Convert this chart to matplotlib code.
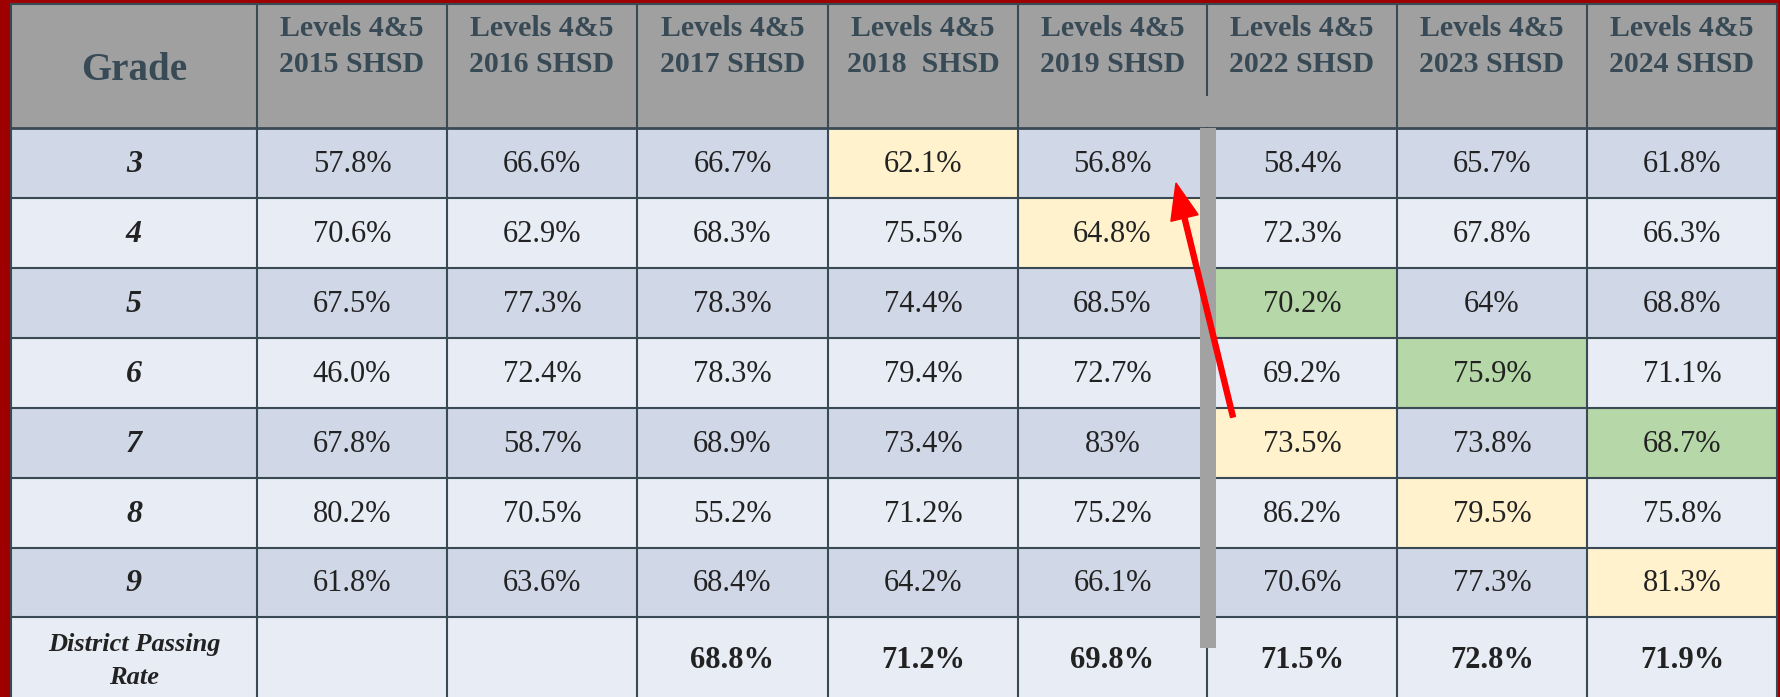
import matplotlib
matplotlib.use("Agg")
import matplotlib.pyplot as plt
from matplotlib.patches import Rectangle

# ---------------- data ----------------
years = ["2015", "2016", "2017", "2018 ", "2019", "2022", "2023", "2024"]
header_labels = [f"Levels 4&5\n{y} SHSD" for y in years]
grades = ["3", "4", "5", "6", "7", "8", "9"]

grade3 = ["57.8%", "66.6%", "66.7%", "62.1%", "56.8%", "58.4%", "65.7%", "61.8%"]
grade4 = ["70.6%", "62.9%", "68.3%", "75.5%", "64.8%", "72.3%", "67.8%", "66.3%"]
grade5 = ["67.5%", "77.3%", "78.3%", "74.4%", "68.5%", "70.2%", "64%", "68.8%"]
grade6 = ["46.0%", "72.4%", "78.3%", "79.4%", "72.7%", "69.2%", "75.9%", "71.1%"]
grade7 = ["67.8%", "58.7%", "68.9%", "73.4%", "83%", "73.5%", "73.8%", "68.7%"]
grade8 = ["80.2%", "70.5%", "55.2%", "71.2%", "75.2%", "86.2%", "79.5%", "75.8%"]
grade9 = ["61.8%", "63.6%", "68.4%", "64.2%", "66.1%", "70.6%", "77.3%", "81.3%"]
district_label = "District Passing\nRate"
district = ["", "", "68.8%", "71.2%", "69.8%", "71.5%", "72.8%", "71.9%"]

# highlighted cells: (row index, column index, kind)
highlights = [(0, 3, "y"), (1, 4, "y"), (2, 5, "g"), (3, 6, "g"),
              (4, 5, "y"), (4, 7, "g"), (5, 6, "y"), (6, 7, "y")]

rows = [grade3, grade4, grade5, grade6, grade7, grade8, grade9]

# ---------------- style / layout ----------------
W, H = 1781, 697
RED = "#9E0000"
HEAD_BG = "#A0A0A0"
HEAD_TXT = "#374A55"
LINE = "#3A4A54"
DARK_ROW = "#D0D7E6"
LIGHT_ROW = "#E8ECF4"
YELLOW = "#FFF2CC"
GREEN = "#B6D7A8"
TXT = "#222222"
FONT = ["Liberation Serif", "DejaVu Serif"]

col_edges = [11, 257, 447, 637, 828, 1018, 1207, 1397, 1587, 1777]
row_edges = [4, 128, 198, 268, 338, 408, 478, 548, 617, 697]

fig = plt.figure(figsize=(W / 100, H / 100), dpi=100)
fig.patch.set_facecolor(RED)
ax = fig.add_axes([0, 0, 1, 1])
ax.set_xlim(0, W)
ax.set_ylim(H, 0)
ax.axis("off")

# header background
ax.add_patch(Rectangle((col_edges[0], row_edges[0]), col_edges[-1] - col_edges[0],
                       row_edges[1] - row_edges[0], facecolor=HEAD_BG, edgecolor="none", zorder=1))

# body rows
n_body = len(rows) + 1
for r in range(n_body):
    y0, y1 = row_edges[r + 1], row_edges[r + 2]
    fc = DARK_ROW if r % 2 == 0 else LIGHT_ROW
    ax.add_patch(Rectangle((col_edges[0], y0), col_edges[-1] - col_edges[0], y1 - y0,
                           facecolor=fc, edgecolor="none", zorder=1))

for r, c, kind in highlights:
    x0, x1 = col_edges[c + 1], col_edges[c + 2]
    y0, y1 = row_edges[r + 1], row_edges[r + 2]
    ax.add_patch(Rectangle((x0, y0), x1 - x0, y1 - y0,
                           facecolor=YELLOW if kind == "y" else GREEN, edgecolor="none", zorder=2))

# grid lines
lw = 1.5
for y in row_edges[:-1]:
    ax.plot([col_edges[0], col_edges[-1]], [y, y], color=LINE, lw=lw if y != row_edges[1] else 2.0,
            zorder=3, solid_capstyle="butt")
for i, x in enumerate(col_edges):
    if x == 1207:
        ax.plot([x, x], [row_edges[0], 95], color=LINE, lw=lw, zorder=3)
        ax.plot([x, x], [row_edges[1], H], color=LINE, lw=lw, zorder=3)
    else:
        ax.plot([x, x], [row_edges[0], H], color=LINE, lw=lw, zorder=3)

# header text
ax.text((col_edges[0] + col_edges[1]) / 2, 70, "Grade", ha="center", va="center",
        fontsize=28, fontweight="bold", color=HEAD_TXT, family=FONT, zorder=5)
for c, lab in enumerate(header_labels):
    cx = (col_edges[c + 1] + col_edges[c + 2]) / 2
    l1, l2 = lab.split("\n")
    ax.text(cx, 36, l1, ha="center", va="baseline", fontsize=21.5, fontweight="bold",
            color=HEAD_TXT, family=FONT, zorder=5)
    ax.text(cx, 72, l2, ha="center", va="baseline", fontsize=21.5, fontweight="bold",
            color=HEAD_TXT, family=FONT, zorder=5)

# body text
gx = (col_edges[0] + col_edges[1]) / 2
for r, (g, vals) in enumerate(zip(grades, rows)):
    cy = (row_edges[r + 1] + row_edges[r + 2]) / 2
    ax.text(gx, cy + 1, g, ha="center", va="center", fontsize=23, fontweight="bold",
            style="italic", color=TXT, family=FONT, zorder=5)
    for c, v in enumerate(vals):
        cx = (col_edges[c + 1] + col_edges[c + 2]) / 2
        ax.text(cx, cy + 1, v, ha="center", va="center", fontsize=22, color=TXT,
                family=FONT, zorder=5)

# district row
l1, l2 = district_label.split("\n")
ax.text(gx, 645, l1, ha="center", va="center", fontsize=19, style="italic", fontweight="bold",
        color=TXT, family=FONT, zorder=5)
ax.text(gx, 677, l2, ha="center", va="center", fontsize=19, style="italic", fontweight="bold",
        color=TXT, family=FONT, zorder=5)
for c, v in enumerate(district):
    cx = (col_edges[c + 1] + col_edges[c + 2]) / 2
    ax.text(cx, 661, v, ha="center", va="center", fontsize=22, fontweight="bold",
            color=TXT, family=FONT, zorder=5)

# grey divider bar between 2019 and 2022
ax.add_patch(Rectangle((1200, row_edges[1]), 16, 648 - row_edges[1], facecolor="#A2A2A2",
                       edgecolor="none", zorder=6))

# red arrow
ax.arrow(1233, 417, 1176 - 1233, 183 - 417, width=5, head_width=28, head_length=36,
         length_includes_head=True, color="#FF0000", zorder=7)

fig.savefig("out.png", dpi=100, facecolor=RED)
